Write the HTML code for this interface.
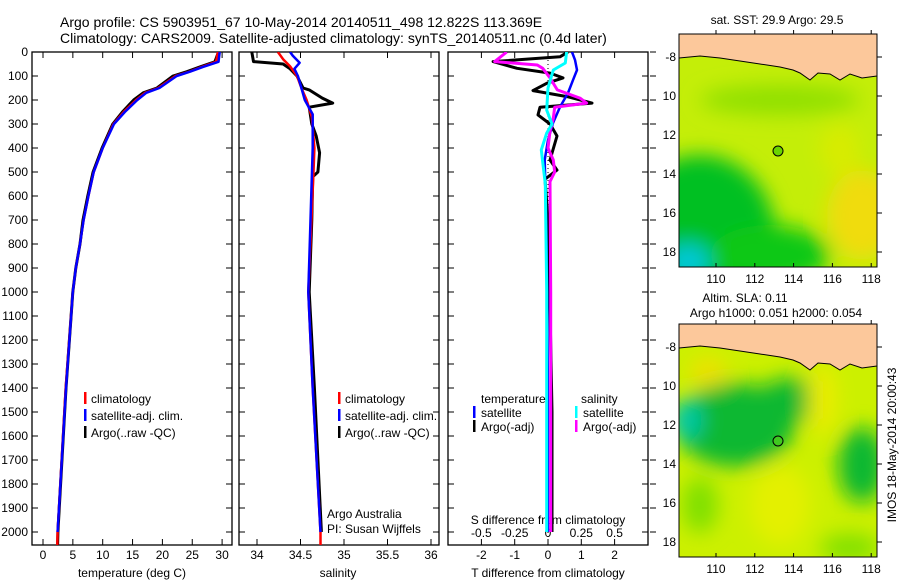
<!DOCTYPE html>
<html><head><meta charset="utf-8"><style>
body{margin:0;background:#fff;}
svg{display:block;font-family:"Liberation Sans",sans-serif;}
text{fill:#000;}
</style></head><body>
<svg id="fig" width="900" height="580" viewBox="0 0 900 580">
<defs>
<clipPath id="c1"><rect x="32" y="52" width="200" height="493"/></clipPath>
<clipPath id="c2"><rect x="239" y="52" width="200" height="493"/></clipPath>
<clipPath id="c3"><rect x="448" y="52" width="200" height="493"/></clipPath>
<clipPath id="m1"><rect x="679" y="34" width="198" height="233"/></clipPath>
<clipPath id="m2"><rect x="679" y="324" width="198" height="233"/></clipPath>
<filter id="bl" x="-50%" y="-50%" width="200%" height="200%"><feGaussianBlur stdDeviation="10"/></filter>
</defs>
<text x="60" y="27" font-size="14">Argo profile: CS 5903951_67 10-May-2014 20140511_498 12.822S 113.369E</text>
<text x="60" y="43" font-size="14">Climatology: CARS2009. Satellite-adjusted climatology: synTS_20140511.nc (0.4d later)</text>

<g id="maps">
<g clip-path="url(#m1)">
<rect x="679" y="34" width="198" height="233" fill="#c4ee08"/>
<g filter="url(#bl)">
<ellipse cx="700" cy="235" rx="75" ry="80" fill="#00c020"/>
<ellipse cx="770" cy="255" rx="60" ry="30" fill="#10c818"/>
<ellipse cx="780" cy="100" rx="80" ry="15" fill="#90e000"/>
<ellipse cx="688" cy="262" rx="22" ry="18" fill="#00c8d8"/>
<ellipse cx="862" cy="215" rx="35" ry="45" fill="#f0dc10"/>
<ellipse cx="840" cy="150" rx="20" ry="25" fill="#d8ec00"/>
</g>
<polygon points="679,34 877,34 877,76 862,78 850,74 840,80 830,74 818,73 810,80 800,73 793,70 780,67 760,64 740,61 720,58 700,56 679,58" fill="#fcc89b" stroke="#000" stroke-width="1"/>
</g>
<rect x="679" y="34" width="198" height="233" fill="none" stroke="#000"/>
<circle cx="778" cy="151" r="5" fill="#6ad400" stroke="#000"/>
<text x="777" y="24" font-size="12" text-anchor="middle">sat. SST: 29.9 Argo: 29.5</text>

<g clip-path="url(#m2)">
<rect x="679" y="324" width="198" height="233" fill="#ccf000"/>
<g filter="url(#bl)">
<ellipse cx="735" cy="425" rx="60" ry="42" fill="#10b830"/>
<ellipse cx="790" cy="400" rx="32" ry="22" fill="#10b830"/>
<ellipse cx="686" cy="420" rx="16" ry="20" fill="#00c8a8"/>
<ellipse cx="862" cy="465" rx="24" ry="38" fill="#10b830"/>
<ellipse cx="708" cy="372" rx="18" ry="14" fill="#f0e000"/>
<ellipse cx="822" cy="400" rx="14" ry="35" fill="#ecec00"/>
<ellipse cx="780" cy="505" rx="30" ry="40" fill="#e4f000"/>
<ellipse cx="700" cy="505" rx="18" ry="28" fill="#80e000"/>
<ellipse cx="850" cy="548" rx="30" ry="14" fill="#80e000"/>
</g>
<polygon points="679,324 877,324 877,366 862,368 850,364 840,370 830,364 818,363 810,370 800,363 793,360 780,357 760,354 740,351 720,348 700,346 679,348" fill="#fcc89b" stroke="#000" stroke-width="1"/>
</g>
<rect x="679" y="324" width="198" height="233" fill="none" stroke="#000"/>
<circle cx="778" cy="441" r="5" fill="#40c820" stroke="#000"/>
<text x="745" y="302" font-size="12" text-anchor="middle">Altim. SLA: 0.11</text>
<text x="776" y="317" font-size="12" text-anchor="middle">Argo h1000: 0.051 h2000: 0.054</text>
<text transform="translate(896,445) rotate(-90)" font-size="12" text-anchor="middle">IMOS 18-May-2014 20:00:43</text>
</g>
<g id="axes"></g>
</svg>
<script>
// depth axis
const depthTicks=[0,100,200,300,400,500,600,700,800,900,1000,1100,1200,1300,1400,1500,1600,1700,1800,1900,2000];
// temperature panel
const tempTicks=[0,5,10,15,20,25,30];
const tDepth=[0,41,62,82,100,150,170,200,250,300,400,500,600,700,800,900,1000,1400,2000,2054];
const tArgo=[29.4,28.8,26.3,24.1,21.8,19.1,16.8,15.2,13.3,11.7,9.9,8.4,7.5,6.7,6.2,5.5,5.0,3.85,2.5,2.45];
const tClim=[29.3,29.0,26.6,24.5,22.2,19.3,17.1,15.6,13.5,11.8,10.0,8.5,7.6,6.8,6.2,5.5,5.0,3.8,2.45,2.4];
const tSat=[29.6,29.4,26.8,24.6,22.4,19.5,17.3,15.8,13.7,11.9,10.0,8.5,7.6,6.8,6.2,5.5,5.0,3.85,2.45];
// salinity panel
const salTicks=[34,34.5,35,35.5,36];
const sArgoD=[0,40,50,70,100,150,158,192,213,230,300,350,420,500,520,700,1000,1400,2000];
const sArgo=[33.94,33.96,34.30,34.38,34.46,34.53,34.60,34.75,34.87,34.60,34.63,34.68,34.72,34.70,34.64,34.63,34.60,34.66,34.74];
const sClimD=[0,30,60,100,150,200,270,400,500,1000,1400,2000,2054];
const sClim=[34.24,34.30,34.38,34.46,34.51,34.57,34.63,34.66,34.65,34.59,34.64,34.73,34.73];
const sSatD=[0,15,45,70,100,150,200,260,400,1000,1400,2000];
const sSat=[34.38,34.41,34.49,34.43,34.47,34.51,34.55,34.64,34.64,34.59,34.64,34.73];
// difference panel
const dtTicks=[-2,-1,0,1,2];
const dsTicks=[-0.5,-0.25,0,0.25,0.5];
const dtSatD=[0,33,75,117,171,229,296,367,450,700,1000,1500,2000];
const dtSat=[0.72,0.81,0.87,0.75,0.6,0.36,0.15,0.0,-0.1,-0.05,-0.02,0.0,0.0];
const dtArgoD=[0,20,40,68,88,108,130,161,186,213,230,262,300,350,450,492,530,700,1000,1500,2000];
const dtArgo=[0.6,0.36,-1.65,-0.93,0.06,0.45,-0.03,-0.45,0.57,1.32,-0.24,-0.3,0.06,0.27,0.06,0.27,-0.09,0.0,0.05,0.12,0.12];
const dsArgoD=[0,40,54,68,108,158,192,213,230,276,330,400,450,500,540,1000,2000];
const dsArgo=[-0.31,-0.4,-0.08,-0.04,0.015,0.07,0.24,0.29,0.05,0.04,0.015,0.0,0.04,0.05,0.015,0.02,0.02];
const dsSatD=[0,46,75,150,242,300,338,408,550,1000,2000];
const dsSat=[0.14,0.13,0.04,0.0,-0.01,0.03,-0.01,-0.05,-0.02,-0.01,-0.01];
// map ticks
const lonTicks=[110,112,114,116,118];
const latTicks=[-8,-10,-12,-14,-16,-18];

const NS='http://www.w3.org/2000/svg';
const root=document.getElementById('axes');
function el(tag,attrs,parent){const e=document.createElementNS(NS,tag);for(const k in attrs)e.setAttribute(k,attrs[k]);(parent||root).appendChild(e);return e;}
const yD=d=>52+d*0.24;
const xT=t=>43+t*5.97;
const xS=s=>257+(s-34)*87;
const xDT=t=>548+t*33.3;
const xDS=s=>548+s*133.2;
const lonX=l=>716+(l-110)*19.4;
const latY=l=>57+(-8-l)*19.5;

function line(xs,ds,fx,color,w,clip,name){
  let p='';xs.forEach((v,i)=>{p+=(i?'L':'M')+fx(v).toFixed(1)+','+yD(ds[i]).toFixed(1);});
  const e=el('path',{d:p,fill:'none',stroke:color,'stroke-width':w,'stroke-linejoin':'round','clip-path':'url(#'+clip+')'});
  
  
}
function panel(x0,name){
  const g=el('g',{});
  
  
  el('rect',{x:x0,y:52,width:200,height:493,fill:'none',stroke:'#000','stroke-width':1.3},g);
  depthTicks.forEach(d=>{el('line',{x1:x0,x2:x0+6,y1:yD(d),y2:yD(d),stroke:'#000'},g);el('line',{x1:x0+194,x2:x0+200,y1:yD(d),y2:yD(d),stroke:'#000'},g);});
  return g;
}
function xticks(g,ticks,fx,labels){
  ticks.forEach((t,i)=>{const x=fx(t);el('line',{x1:x,x2:x,y1:52,y2:58,stroke:'#000'},g);el('line',{x1:x,x2:x,y1:539,y2:545,stroke:'#000'},g);
    const tx=el('text',{x:x,y:559,'font-size':12,'text-anchor':'middle'},g);tx.textContent=labels?labels[i]:t;
    
    });
}
function txt(x,y,s,name,anchor,size){const t=el('text',{x:x,y:y,'font-size':size||12,'text-anchor':anchor||'start'});t.textContent=s;
  
  return t;}
function bar(x,y,color,name){const r=el('rect',{x:x,y:y-11,width:2.5,height:12,fill:color});
  
  }

// panel 1
const g1=panel(32,'temperature-panel');
depthTicks.forEach(d=>{const t=el('text',{x:28,y:yD(d)+4,'font-size':12,'text-anchor':'end'});t.textContent=d;
  
  });
xticks(g1,tempTicks,xT);
txt(132,577,'temperature (deg C)','temperature-axis-title','middle');
line(tArgo,tDepth,xT,'#000',3,'c1','temp-argo-line');
line(tClim,tDepth,xT,'#f00',2.5,'c1','temp-climatology-line');
line(tSat,tDepth.slice(0,tSat.length),xT,'#00f',2.5,'c1','temp-satellite-line');
bar(84,403,'#f00','legend-swatch-climatology');txt(91,403,'climatology','legend-climatology');
bar(84,420,'#00f','legend-swatch-satellite');txt(91,420,'satellite-adj. clim.','legend-satellite');
bar(84,437,'#000','legend-swatch-argo');txt(91,437,'Argo(..raw -QC)','legend-argo');

// panel 2
const g2=panel(239,'salinity-panel');
xticks(g2,salTicks,xS);
txt(338,577,'salinity','salinity-axis-title','middle');
line(sArgo,sArgoD,xS,'#000',3,'c2','sal-argo-line');
line(sClim,sClimD,xS,'#f00',2.5,'c2','sal-climatology-line');
line(sSat,sSatD,xS,'#00f',2.5,'c2','sal-satellite-line');
bar(338,403,'#f00','legend-swatch-climatology');txt(345,403,'climatology','legend-climatology');
bar(338,420,'#00f','legend-swatch-satellite');txt(345,420,'satellite-adj. clim.','legend-satellite');
bar(338,437,'#000','legend-swatch-argo');txt(345,437,'Argo(..raw -QC)','legend-argo');
txt(327,518,'Argo Australia','credit-line-1');
txt(327,533,'PI: Susan Wijffels','credit-line-2');

// panel 3
const g3=panel(448,'difference-panel');
xticks(g3,dtTicks,xDT);
depthTicks.forEach(d=>el('line',{x1:650,x2:656,y1:yD(d),y2:yD(d),stroke:'#000'}));
el('line',{x1:548,x2:548,y1:52,y2:545,stroke:'#000','stroke-dasharray':'1,3'});
dsTicks.forEach(s=>{const t=el('text',{x:xDS(s),y:537,'font-size':12,'text-anchor':'middle'});t.textContent=s;
  
  });
txt(548,524,'S difference from climatology','s-diff-axis-title','middle');
txt(548,577,'T difference from climatology','t-diff-axis-title','middle');
line(dtArgo,dtArgoD,xDT,'#000',3,'c3','tdiff-argo-line');
line(dtSat,dtSatD,xDT,'#00f',2.5,'c3','tdiff-satellite-line');
line(dsArgo,dsArgoD,xDS,'#f0f',3,'c3','sdiff-argo-line');
line(dsSat,dsSatD,xDS,'#0ff',3,'c3','sdiff-satellite-line');
txt(481,403,'temperature','legend-temperature-header');
txt(581,403,'salinity','legend-salinity-header');
bar(473,417,'#00f','legend-swatch-t-satellite');txt(481,417,'satellite','legend-t-satellite');
bar(473,431,'#000','legend-swatch-t-argo');txt(481,431,'Argo(-adj)','legend-t-argo');
bar(575,417,'#0ff','legend-swatch-s-satellite');txt(583,417,'satellite','legend-s-satellite');
bar(575,431,'#f0f','legend-swatch-s-argo');txt(583,431,'Argo(-adj)','legend-s-argo');

// map axes
[[34,267,280],[324,557,570]].forEach(([top,bot,ly])=>{
  lonTicks.forEach(l=>{const x=lonX(l);el('line',{x1:x,x2:x,y1:bot,y2:bot-4,stroke:'#000'});el('line',{x1:x,x2:x,y1:top,y2:top-4,stroke:'#000'});
    const t=el('text',{x:x,y:ly+3,'font-size':12,'text-anchor':'middle'});t.textContent=l;
    
    });
  latTicks.forEach(l=>{const y=latY(l)+(top-34);el('line',{x1:877,x2:882,y1:y,y2:y,stroke:'#000'});
    const t=el('text',{x:676,y:y+4,'font-size':12,'text-anchor':'end'});t.textContent=(l===-8?'-8':String(-l));
    
    });
});
</script>
</body></html>
